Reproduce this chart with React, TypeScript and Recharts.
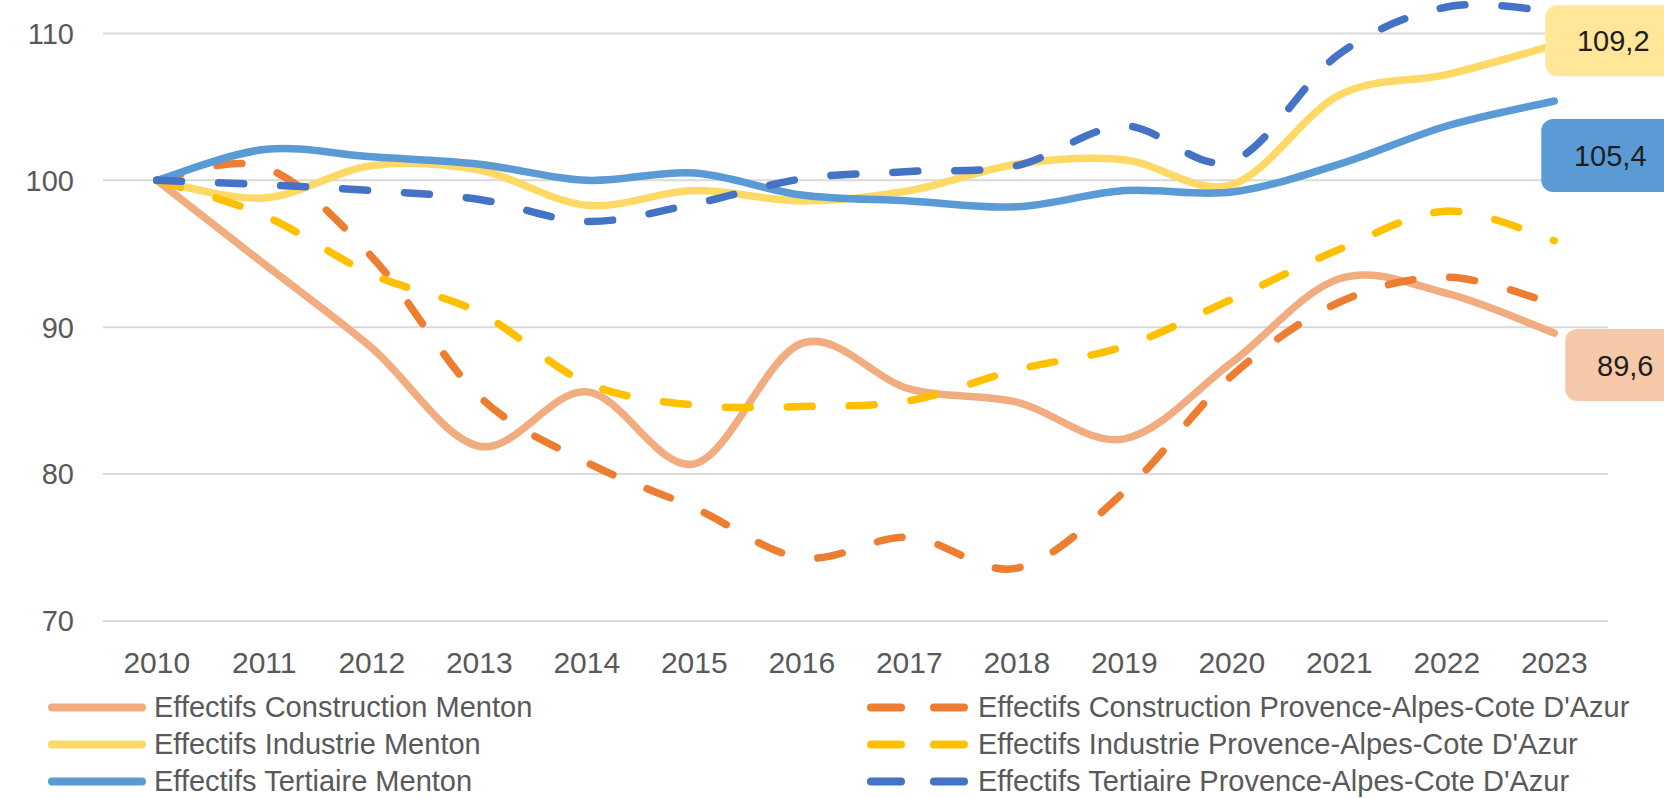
import { CartesianGrid, LabelList, Legend, Line, LineChart, XAxis, YAxis } from 'recharts';

const years = ['2010', '2011', '2012', '2013', '2014', '2015', '2016', '2017', '2018', '2019', '2020', '2021', '2022', '2023'];

const constructionMenton = [100, 94.3, 88.6, 81.9, 85.6, 80.7, 88.9, 85.8, 84.9, 82.4, 87.6, 93.3, 92.3, 89.6];
const constructionPaca = [100, 100.9, 94.8, 85.3, 80.8, 77.7, 74.3, 75.7, 73.6, 78.8, 86.7, 91.7, 93.4, 91.6];
const industrieMenton = [100, 98.8, 101.0, 100.7, 98.3, 99.3, 98.6, 99.3, 101.1, 101.4, 99.7, 105.8, 107.2, 109.2];
const industriePaca = [100, 97.6, 93.6, 91.0, 86.2, 84.7, 84.6, 85.0, 87.1, 88.7, 91.9, 95.3, 97.9, 95.9];
const tertiaireMenton = [100, 102.1, 101.6, 101.1, 100.0, 100.5, 99.0, 98.6, 98.2, 99.3, 99.2, 101.1, 103.7, 105.4];
const tertiairePaca = [100, 99.7, 99.3, 98.7, 97.2, 98.4, 100.1, 100.6, 101.0, 103.7, 101.3, 108.6, 111.8, 111.5];

const yTicks = [70, 80, 90, 100, 110];

const data = years.map((year, i) => ({
  year,
  constructionMenton: constructionMenton[i],
  constructionPaca: constructionPaca[i],
  industrieMenton: industrieMenton[i],
  industriePaca: industriePaca[i],
  tertiaireMenton: tertiaireMenton[i],
  tertiairePaca: tertiairePaca[i],
}));

const FONT = '"Liberation Sans", Arial, sans-serif';
const TEXT = '#595959';
const ROW = 37;

type Box = { dx: number; dy: number; w: number; h: number; fill: string };

const series: Array<{ key: string; name: string; color: string; dashed: boolean; col: number; row: number; box?: Box }> = [
  { key: 'constructionMenton', name: 'Effectifs Construction Menton', color: '#F1AC80', dashed: false, col: 0, row: 0, box: { dx: 11, dy: -4, w: 120, h: 72, fill: '#F5C8A9' } },
  { key: 'constructionPaca', name: "Effectifs Construction Provence-Alpes-Cote D'Azur", color: '#ED7D31', dashed: true, col: 1, row: 0 },
  { key: 'industrieMenton', name: 'Effectifs Industrie Menton', color: '#FFD966', dashed: false, col: 0, row: 1, box: { dx: -9, dy: -40, w: 136, h: 71, fill: '#FFE699' } },
  { key: 'industriePaca', name: "Effectifs Industrie Provence-Alpes-Cote D'Azur", color: '#FFC000', dashed: true, col: 1, row: 1 },
  { key: 'tertiaireMenton', name: 'Effectifs Tertiaire Menton', color: '#5B9BD5', dashed: false, col: 0, row: 2, box: { dx: -13, dy: 18, w: 138, h: 73, fill: '#5B9BD5' } },
  { key: 'tertiairePaca', name: "Effectifs Tertiaire Provence-Alpes-Cote D'Azur", color: '#4472C4', dashed: true, col: 1, row: 2 },
];

// Excel-like smoothing: cubic bezier with catmull-rom control points
const excelCurve = (context: any) => {
  let pts: number[][] = [];
  return {
    areaStart() {},
    areaEnd() {},
    lineStart() {
      pts = [];
    },
    point(x: number, y: number) {
      pts.push([+x, +y]);
    },
    lineEnd() {
      if (!pts.length) return;
      context.moveTo(pts[0][0], pts[0][1]);
      for (let i = 0; i < pts.length - 1; i++) {
        const p0 = pts[i - 1] || pts[i];
        const p1 = pts[i];
        const p2 = pts[i + 1];
        const p3 = pts[i + 2] || p2;
        context.bezierCurveTo(
          p1[0] + (p2[0] - p0[0]) / 6,
          p1[1] + (p2[1] - p0[1]) / 6,
          p2[0] - (p3[0] - p1[0]) / 6,
          p2[1] - (p3[1] - p1[1]) / 6,
          p2[0],
          p2[1],
        );
      }
    },
  };
};

function EndBox(props: any) {
  const { x, y, index, value, box } = props;
  if (index !== years.length - 1 || x == null || y == null) return null;
  const left = x + box.dx;
  const top = y + box.dy;
  return (
    <g>
      <rect x={left} y={top} width={box.w} height={box.h} rx={12} ry={12} fill={box.fill} />
      <text x={left + box.w / 2} y={top + box.h / 2} dy="0.36em" textAnchor="middle" fontSize={29} fill="#1E1E1E" fontFamily={FONT}>
        {String(value).replace('.', ',')}
      </text>
    </g>
  );
}

function LegendBlock() {
  return (
    <div style={{ position: 'relative', width: 1664, height: 114, fontFamily: FONT, fontSize: 29, color: TEXT }}>
      {series.map((s) => {
        const iconLeft = s.col ? 867 : 48;
        const textLeft = s.col ? 978 : 154;
        const top = s.row * ROW;
        return (
          <div key={s.key}>
            <svg style={{ position: 'absolute', left: iconLeft, top }} width={104} height={ROW}>
              <line
                x1={4}
                y1={ROW / 2}
                x2={s.dashed ? 97 : 94}
                y2={ROW / 2}
                stroke={s.color}
                strokeWidth={8}
                strokeLinecap="round"
                strokeDasharray={s.dashed ? '30 33' : undefined}
              />
            </svg>
            <div style={{ position: 'absolute', left: textLeft, top, height: ROW - 2, lineHeight: `${ROW - 2}px`, marginTop: 1, whiteSpace: 'nowrap' }}>{s.name}</div>
          </div>
        );
      })}
    </div>
  );
}

export default function App() {
  return (
    <div style={{ position: 'absolute', left: 0, top: 0, width: 1664, height: 798, overflow: 'hidden', background: '#fff', fontFamily: FONT }}>
      <div style={{ position: 'absolute', left: 0, top: -60 }}>
        <LineChart width={1664} height={863} data={data} margin={{ top: 20, right: 56, bottom: 0, left: 0 }}>
          <CartesianGrid vertical={false} stroke="#D9D9D9" strokeWidth={2} />
          <XAxis
            dataKey="year"
            height={68}
            interval={0}
            padding={{ left: 53.75, right: 53.75 }}
            axisLine={false}
            tickLine={false}
            tickSize={0}
            tickMargin={31}
            tick={{ fill: TEXT, fontSize: 30, fontFamily: FONT }}
          />
          <YAxis
            type="number"
            width={103}
            domain={[70, 115]}
            ticks={yTicks}
            axisLine={false}
            tickLine={false}
            tickSize={0}
            tickMargin={29}
            tick={{ fill: TEXT, fontSize: 29, fontFamily: FONT }}
          />
          <Legend verticalAlign="bottom" content={() => <LegendBlock />} wrapperStyle={{ left: 0, bottom: 0, width: 1664, height: 114 }} />
          {series.map((s) => (
            <Line
              key={s.key}
              dataKey={s.key}
              name={s.name}
              type={excelCurve as any}
              stroke={s.color}
              strokeWidth={7.5}
              strokeLinecap="round"
              strokeLinejoin="round"
              strokeDasharray={s.dashed ? '25 37' : undefined}
              dot={false}
              activeDot={false}
              isAnimationActive={false}
            >
              {s.box && <LabelList dataKey={s.key} content={(p: any) => <EndBox {...p} box={s.box} />} />}
            </Line>
          ))}
        </LineChart>
      </div>
    </div>
  );
}
